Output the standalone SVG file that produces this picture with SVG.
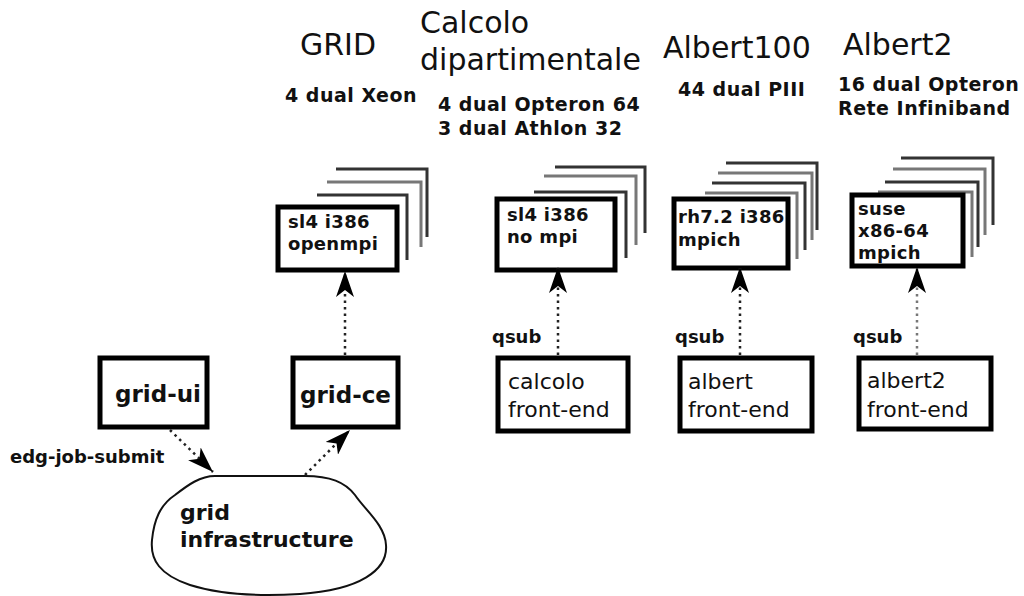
<svg xmlns="http://www.w3.org/2000/svg" width="1024" height="596" viewBox="0 0 1024 596">
<style>
.title{font-family:"DejaVu Sans",sans-serif;font-size:30px;fill:#111}
.sub{font-family:"DejaVu Sans",sans-serif;font-weight:bold;font-size:19px;letter-spacing:0.5px;fill:#111}
.lbl{font-family:"DejaVu Sans",sans-serif;font-weight:bold;font-size:18px;fill:#111}
.box{fill:#fff;stroke:#000;stroke-width:5}
.frame{fill:none;stroke:#333;stroke-width:3}
.frame2{fill:none;stroke:#777;stroke-width:3}
.bt{font-family:"DejaVu Sans",sans-serif;font-weight:bold;font-size:18px;letter-spacing:0.3px;fill:#111}
.nt{font-family:"DejaVu Sans",sans-serif;font-weight:bold;font-size:23px;fill:#111}
.ft{font-family:"DejaVu Sans",sans-serif;font-size:22px;fill:#111}
.dot{fill:none;stroke:#222;stroke-width:2.5;stroke-dasharray:2.5,4}
.dotg{fill:none;stroke:#777;stroke-width:2.5;stroke-dasharray:2.5,4}
</style>
<defs>
<marker id="ah" viewBox="0 0 26 18" refX="26" refY="9" markerWidth="26" markerHeight="18" orient="auto" markerUnits="userSpaceOnUse">
<path d="M0,0 L26,9 L0,18 L7,9 Z" fill="#000"/>
</marker>
</defs>
<rect width="1024" height="596" fill="#fff"/>

<g id="headers">
<text class="title" x="300" y="55">GRID</text>
<text class="sub" x="285" y="102">4 dual Xeon</text>
<text class="title" x="420" y="33">Calcolo</text>
<text class="title" x="420" y="70">dipartimentale</text>
<text class="sub" x="438" y="111">4 dual Opteron 64</text>
<text class="sub" x="438" y="135">3 dual Athlon 32</text>
<text class="title" x="663" y="58">Albert100</text>
<text class="sub" x="678" y="96">44 dual PIII</text>
<text class="title" x="843" y="55">Albert2</text>
<text class="sub" x="838" y="91">16 dual Opteron</text>
<text class="sub" x="838" y="115">Rete Infiniband</text>
</g>

<g id="grid-stack">
<polyline class="frame" points="336,169 427,169 427,237"/>
<polyline class="frame2" points="327,182 421,182 421,247"/>
<polyline class="frame" points="317,195 407,195 407,260"/>
<rect class="box" x="278" y="207" width="119" height="63"/>
<text class="bt" x="288" y="228">sl4 i386</text>
<text class="bt" x="288" y="250">openmpi</text>
</g>

<g id="calcolo-stack">
<polyline class="frame" points="555,167 645,167 645,233"/>
<polyline class="frame2" points="544,176 636,176 636,245"/>
<polyline class="frame" points="534,192 626,192 626,258"/>
<rect class="box" x="497" y="199" width="118" height="71"/>
<text class="bt" x="507" y="221">sl4 i386</text>
<text class="bt" x="507" y="243">no mpi</text>
</g>

<g id="albert100-stack">
<polyline class="frame" points="726,163 817,163 817,230"/>
<polyline class="frame2" points="718,173 812,173 812,240"/>
<polyline class="frame" points="712,183 805,183 805,250"/>
<polyline class="frame2" points="705,193 797,193 797,259"/>
<rect class="box" x="674" y="199" width="114" height="69"/>
<text class="bt" x="678" y="223">rh7.2 i386</text>
<text class="bt" x="678" y="246">mpich</text>
</g>

<g id="albert2-stack">
<polyline class="frame" points="901,158 993,158 993,225"/>
<polyline class="frame2" points="893,169 985,169 985,235"/>
<polyline class="frame" points="885,182 978,182 978,247"/>
<polyline class="frame2" points="878,192 972,192 972,257"/>
<rect class="box" x="852" y="195" width="111" height="71"/>
<text class="bt" x="858" y="215">suse</text>
<text class="bt" x="858" y="237">x86-64</text>
<text class="bt" x="858" y="259">mpich</text>
</g>

<g id="grid-ui">
<rect class="box" x="100" y="358" width="107" height="69"/>
<text class="nt" x="115" y="402">grid-ui</text>
</g>

<g id="grid-ce">
<rect class="box" x="293" y="358" width="105" height="69"/>
<text class="nt" x="300" y="403">grid-ce</text>
</g>

<g id="grid-infrastructure">
<path d="M215,476 L305,476 C330,476 345,482 355,495 C365,510 385,525 386,545 C388,570 360,590 300,594 C250,597 215,593 190,585 C160,575 150,560 152,540 C154,520 160,505 175,495 C188,485 200,476 215,476 Z" fill="#fff" stroke="#111" stroke-width="2"/>
<text class="nt" x="180" y="520" style="font-size:22px">grid</text>
<text class="nt" x="180" y="547" style="font-size:22px">infrastructure</text>
</g>

<g id="calcolo-fe">
<rect class="box" x="498" y="358" width="130" height="73"/>
<text class="ft" x="508" y="389">calcolo</text>
<text class="ft" x="508" y="417">front-end</text>
</g>

<g id="albert-fe">
<rect class="box" x="680" y="358" width="132" height="73"/>
<text class="ft" x="688" y="389">albert</text>
<text class="ft" x="688" y="417">front-end</text>
</g>

<g id="albert2-fe">
<rect class="box" x="859" y="358" width="132" height="71"/>
<text class="ft" x="867" y="388">albert2</text>
<text class="ft" x="867" y="417">front-end</text>
</g>

<g id="connectors">
<line class="dot" x1="170" y1="430" x2="213" y2="472" marker-end="url(#ah)"/>
<line class="dot" x1="305" y1="475" x2="350" y2="430" marker-end="url(#ah)"/>
<line class="dot" x1="345" y1="355" x2="345" y2="271" marker-end="url(#ah)"/>
<line class="dot" x1="558" y1="355" x2="558" y2="267" marker-end="url(#ah)"/>
<line class="dot" x1="740" y1="355" x2="740" y2="267" marker-end="url(#ah)"/>
<line class="dotg" x1="917" y1="355" x2="917" y2="267" marker-end="url(#ah)"/>
<text class="lbl" x="10" y="463">edg-job-submit</text>
<text class="lbl" x="492" y="343">qsub</text>
<text class="lbl" x="675" y="343">qsub</text>
<text class="lbl" x="853" y="343">qsub</text>
</g>
</svg>
